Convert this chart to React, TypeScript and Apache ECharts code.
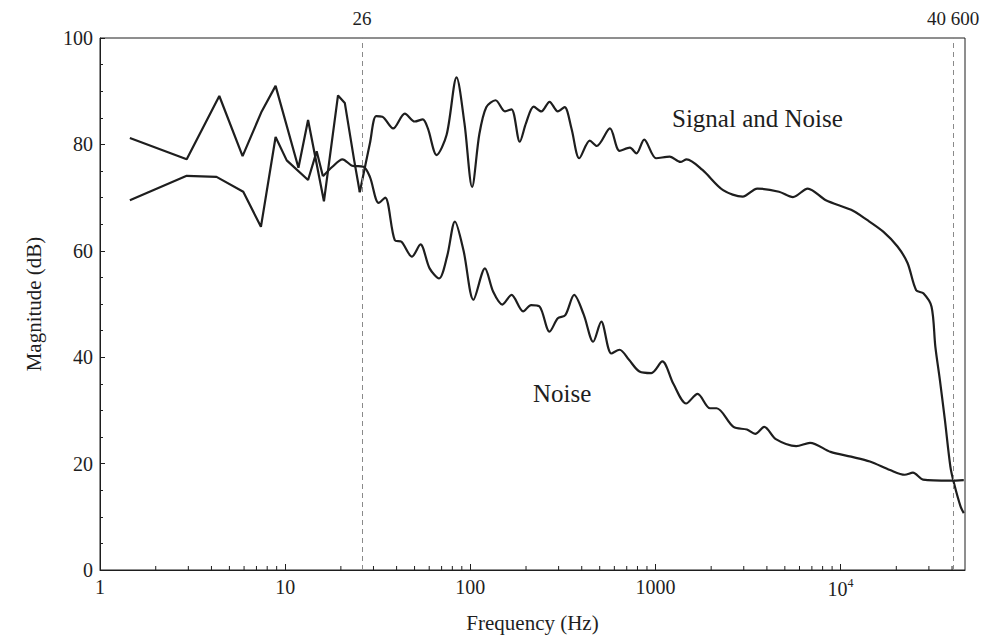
import React, { useEffect, useRef } from "react";
import * as echarts from "echarts";

// Frequency (Hz), magnitude (dB)
const signalLow: [number, number][] = [
  [1.45, 81.2], [2.94, 77.2], [4.41, 89.1], [5.89, 77.8], [7.47, 86.2], [8.88, 91.0],
  [11.8, 75.6], [13.3, 84.6], [16.2, 69.3], [19.3, 89.2], [21.0, 87.8], [23.6, 77.0], [25.3, 71.0],
];
const signalHigh: [number, number][] = [
  [25.3, 71.0], [28.7, 80.2], [31.0, 85.3], [33.5, 85.2], [38.3, 83.0], [44.3, 85.8], [50.1, 84.3],
  [55.4, 84.7], [59.0, 83.0], [65.8, 78.0], [74.5, 81.8], [84.3, 92.6], [93.0, 84.0], [102.3, 72.0],
  [112, 82.0], [122, 87.0], [137, 88.3], [154, 86.2], [167, 86.6], [185, 80.5], [200, 84.0],
  [220, 87.1], [242, 86.2], [268, 88.0], [297, 86.2], [323, 87.0], [352, 83.0], [388, 77.4],
  [442, 80.7], [482, 79.7], [568, 83.0], [640, 78.8], [728, 79.4], [790, 78.3], [870, 80.9],
  [1010, 77.4], [1195, 77.7], [1365, 76.7], [1475, 77.2], [1795, 75.2], [2320, 71.4], [2960, 70.2],
  [3550, 71.7], [4650, 71.1], [5530, 70.1], [6650, 71.7], [8330, 69.5], [11400, 67.7], [13900, 65.8],
  [17000, 63.6], [20300, 60.8], [23000, 57.7], [25600, 52.6], [28000, 52.0], [31000, 49.5],
  [32500, 42.0], [34400, 35.7], [36600, 28.2], [39200, 19.4], [41000, 16.3], [44500, 11.9], [46300, 10.7],
];
const noiseLow: [number, number][] = [
  [1.45, 69.5], [2.94, 74.1], [4.26, 73.9], [5.94, 71.1], [7.4, 64.5], [8.88, 81.4], [10.2, 77.0],
  [13.3, 73.3], [14.8, 78.7], [16.0, 74.0],
];
const noiseHigh: [number, number][] = [
  [16.0, 74.0], [18.0, 75.8], [20.4, 77.2], [23.0, 76.0], [26.5, 75.8], [28.7, 73.9], [32.0, 69.0],
  [34.7, 70.0], [39.1, 62.0], [42.5, 61.7], [48.4, 58.9], [53.8, 61.2], [60.3, 56.7], [67.8, 54.8],
  [75.0, 59.0], [82.6, 65.5], [92.0, 60.0], [104, 50.8], [120, 56.7], [133, 52.3], [149, 49.9],
  [167, 51.7], [193, 48.6], [213, 49.8], [237, 49.5], [268, 44.8], [297, 47.3], [326, 47.9],
  [364, 51.7], [410, 48.0], [461, 42.9], [510, 46.7], [578, 40.7], [640, 41.4], [720, 39.5],
  [820, 37.3], [950, 37.0], [1090, 39.2], [1250, 35.0], [1465, 31.3], [1690, 33.1], [1970, 30.4],
  [2140, 30.4], [2640, 26.9], [3120, 26.4], [3460, 25.6], [3870, 26.9], [4470, 24.6], [5760, 23.3],
  [6840, 23.9], [8830, 22.2], [11400, 21.3], [14400, 20.4], [18500, 18.8], [22200, 17.9],
  [24600, 18.3], [27900, 17.0], [39000, 16.8], [46300, 16.9],
];

const markerFreqs = [26, 40600];
const markerLabels = ["26", "40 600"];
const xMin = 1;
const xMax = 47000;

const minorTickValues: number[] = [];
for (let d = 1; d <= 10000; d *= 10) {
  for (let k = 2; k <= 9; k++) {
    if (k * d < xMax) minorTickValues.push(k * d);
  }
}

const FONT = "'Liberation Serif', 'DejaVu Serif', serif";
const INK = "#1e1e1e";

export default function App() {
  const ref = useRef<HTMLDivElement>(null);
  useEffect(() => {
    if (!ref.current) return;
    const chart = echarts.init(ref.current, null, { renderer: "svg" });
    const lineBase = {
      type: "line" as const,
      showSymbol: false,
      symbol: "none",
      lineStyle: { color: INK, width: 2.2 },
      z: 3,
    };
    chart.setOption({
      animation: false,
      backgroundColor: "#fff",
      grid: {
        left: 100, right: 36, top: 38, bottom: 71,
        show: true, borderColor: INK, borderWidth: 1,
      },
      xAxis: {
        type: "log",
        logBase: 10,
        min: xMin,
        max: xMax,
        name: "Frequency (Hz)",
        nameLocation: "middle",
        nameGap: 42,
        nameTextStyle: { fontFamily: FONT, fontSize: 21, color: INK },
        axisLine: { show: true, lineStyle: { color: INK, width: 1 } },
        axisTick: { show: true, inside: true, length: 6, lineStyle: { color: INK } },
        splitLine: { show: false },
        axisLabel: {
          margin: 7,
          showMaxLabel: false,
          fontFamily: FONT,
          fontSize: 20,
          color: INK,
          formatter: (v: number) => {
            const l = Math.log10(v);
            const e = Math.round(l);
            if (Math.abs(l - e) > 1e-6) return "";
            if (e >= 4) return "{b|10}{s|" + e + "}";
            return String(Math.round(v));
          },
          rich: {
            b: { fontFamily: FONT, fontSize: 20, color: INK, lineHeight: 22, verticalAlign: "bottom" },
            s: { fontFamily: FONT, fontSize: 12, color: INK, lineHeight: 22, verticalAlign: "top", padding: [0, 0, 10, 0] },
          },
        },
      },
      yAxis: {
        type: "value",
        min: 0,
        max: 100,
        interval: 20,
        name: "Magnitude (dB)",
        nameLocation: "middle",
        nameGap: 56,
        nameTextStyle: { fontFamily: FONT, fontSize: 21, color: INK },
        axisLine: { show: true, lineStyle: { color: INK, width: 1 } },
        axisTick: { show: true, inside: true, length: 5, lineStyle: { color: INK } },
        minorTick: { show: true, splitNumber: 4, length: 3, lineStyle: { color: INK } },
        splitLine: { show: false },
        axisLabel: { margin: 7, fontFamily: FONT, fontSize: 20, color: INK },
      },
      series: [
        {
          ...lineBase,
          name: "Signal and Noise (low)",
          data: signalLow,
          smooth: false,
        },
        {
          ...lineBase,
          name: "Signal and Noise",
          data: signalHigh,
          smooth: 0.3,
          markLine: {
            silent: true,
            symbol: "none",
            lineStyle: { type: [5, 4], color: "#8a8a8a", width: 1 },
            label: {
              show: true,
              position: "end",
              distance: 10,
              fontFamily: FONT,
              fontSize: 19,
              color: INK,
            },
            data: markerFreqs.map((f, i) => ({
              xAxis: f,
              label: { formatter: markerLabels[i] },
            })),
          },
        },
        {
          ...lineBase,
          name: "Noise (low)",
          data: noiseLow,
          smooth: false,
        },
        {
          ...lineBase,
          name: "Noise",
          data: noiseHigh,
          smooth: 0.3,
        },
        {
          type: "custom",
          name: "minor ticks",
          silent: true,
          data: minorTickValues.map((v) => [v, 0]),
          renderItem: (_params: any, api: any) => {
            const p = api.coord([api.value(0), 0]);
            return {
              type: "line",
              shape: { x1: p[0], y1: p[1], x2: p[0], y2: p[1] - 4 },
              style: { stroke: INK, lineWidth: 1 },
            };
          },
          z: 2,
        },
      ],
      graphic: [
        {
          type: "text",
          left: 672,
          top: 106,
          style: { text: "Signal and Noise", fontFamily: FONT, fontSize: 25, fill: INK },
        },
        {
          type: "text",
          left: 533,
          top: 381,
          style: { text: "Noise", fontFamily: FONT, fontSize: 25, fill: INK },
        },
      ],
    });
    return () => chart.dispose();
  }, []);
  return (
    <div
      ref={ref}
      style={{ position: "fixed", left: 0, top: 0, width: 1001, height: 641, background: "#fff" }}
    />
  );
}
